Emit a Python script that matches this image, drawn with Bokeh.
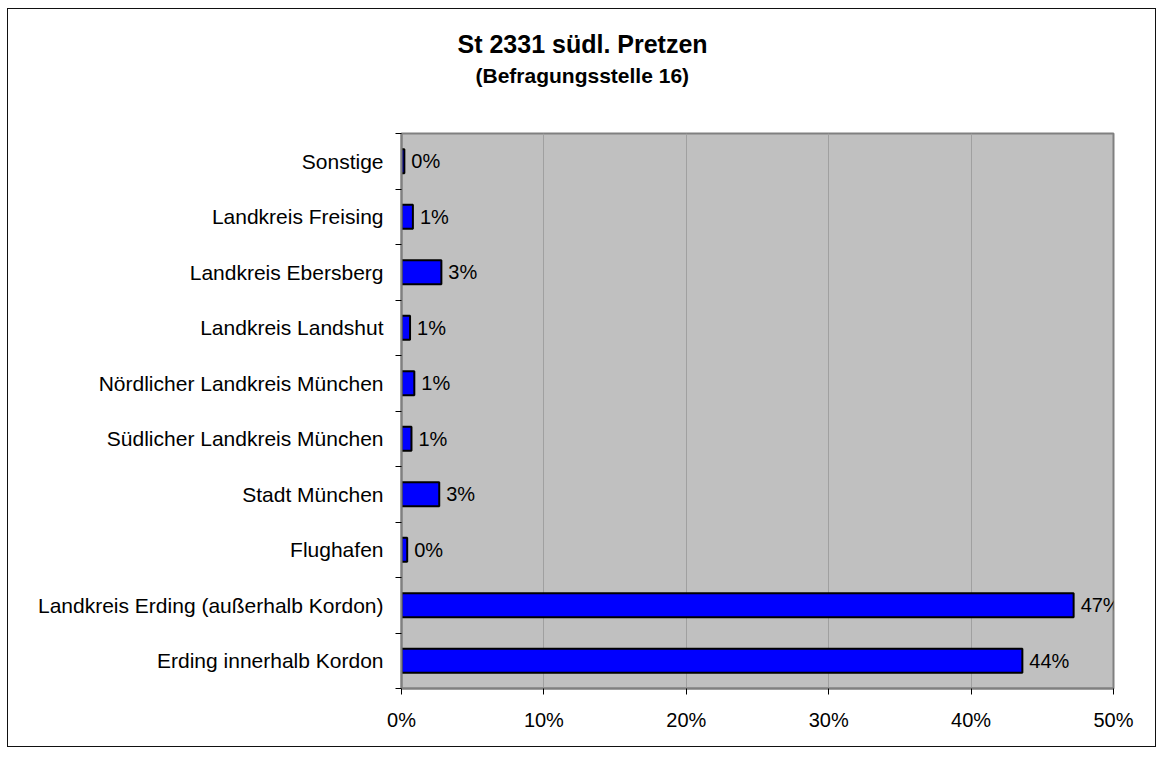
import numpy as np
from bokeh.plotting import figure
from bokeh.models import (ColumnDataSource, Range1d, FixedTicker, NumeralTickFormatter,
                          LabelSet, Title)
from bokeh.core.properties import value
from bokeh.embed import file_html
from bokeh.resources import INLINE

# ---- data (bottom to top) ----
categories = [
    "Erding innerhalb Kordon",
    "Landkreis Erding (außerhalb Kordon)",
    "Flughafen",
    "Stadt München",
    "Südlicher Landkreis München",
    "Nördlicher Landkreis München",
    "Landkreis Landshut",
    "Landkreis Ebersberg",
    "Landkreis Freising",
    "Sonstige",
]
shares = [0.436, 0.472, 0.004, 0.0265, 0.007, 0.009, 0.006, 0.028, 0.008, 0.002]
x_ticks = [0.0, 0.1, 0.2, 0.3, 0.4, 0.5]

title_text = "St 2331 südl. Pretzen"
subtitle_text = "(Befragungsstelle 16)"

FONT = "Liberation Sans"

n = len(categories)
centers = list(np.arange(n) + 0.5)
labels = [f"{round(v * 100):.0f}%" for v in shares]

src = ColumnDataSource(dict(y=centers, v=shares, cat=categories, lab=labels))

p = figure(width=1149, height=739, output_backend="svg", toolbar_location=None,
           x_range=Range1d(0, 0.5), y_range=Range1d(0, n),
           min_border_left=393, min_border_right=44, min_border_top=124,
           min_border_bottom=60)

p.styles = {"border": "1px solid #111111",
            "margin-left": "7px", "margin-top": "8px"}

p.background_fill_color = "#C0C0C0"
p.border_fill_color = "white"
p.outline_line_color = "#808080"
p.outline_line_width = 2

p.hbar(y="y", right="v", left=0, height=0.43, source=src,
       fill_color="#0000FF", line_color="black", line_width=2)

p.add_layout(LabelSet(x="v", y="y", text="lab", source=src, x_offset=7,
                      text_baseline="middle", text_align="left",
                      text_font=value(FONT), text_font_size="20px",
                      text_color="black", level="overlay"))

# x axis
xa = p.xaxis[0]
xa.ticker = FixedTicker(ticks=x_ticks)
xa.formatter = NumeralTickFormatter(format="0%")
xa.major_label_text_font = FONT
xa.major_label_text_font_size = "20px"
xa.major_label_text_color = "black"
xa.major_tick_out = 6
xa.major_tick_in = 0
xa.major_tick_line_color = "black"
xa.minor_tick_line_color = None
xa.axis_line_color = "#808080"
xa.axis_line_width = 2
xa.major_label_standoff = 14

# y axis: labels at centers, tick marks at band boundaries
ya = p.yaxis[0]
ya.ticker = FixedTicker(ticks=centers, minor_ticks=list(range(n + 1)))
ya.major_label_overrides = {float(c): cat for c, cat in zip(centers, categories)}
ya.major_tick_line_color = None
ya.minor_tick_line_color = "black"
ya.minor_tick_out = 6
ya.minor_tick_in = 0
ya.major_label_text_font = FONT
ya.major_label_text_font_size = "21px"
ya.major_label_text_color = "black"
ya.major_label_standoff = 12
ya.axis_line_color = "#808080"
ya.axis_line_width = 2

p.xgrid.ticker = FixedTicker(ticks=x_ticks)
p.xgrid.grid_line_color = "#A0A0A0"
p.xgrid.grid_line_width = 1
p.ygrid.grid_line_color = None

# titles: main title outermost, subtitle below it, spacer next to the frame
p.title.text = title_text
p.title.align = "left"
p.title.offset = 56
p.title.standoff = 3
p.title.text_font = FONT
p.title.text_font_size = "25px"
p.title.text_font_style = "bold"
p.title.text_color = "black"

# spacer (nearest to the frame), then subtitle
p.add_layout(Title(text=" ", standoff=20, text_font=FONT, text_font_size="21px"), "above")
p.add_layout(Title(text=subtitle_text, align="left", offset=74, standoff=4,
                   text_font=FONT, text_font_size="21px",
                   text_font_style="bold", text_color="black"), "above")

open("out.html", "w").write(file_html(p, INLINE))
